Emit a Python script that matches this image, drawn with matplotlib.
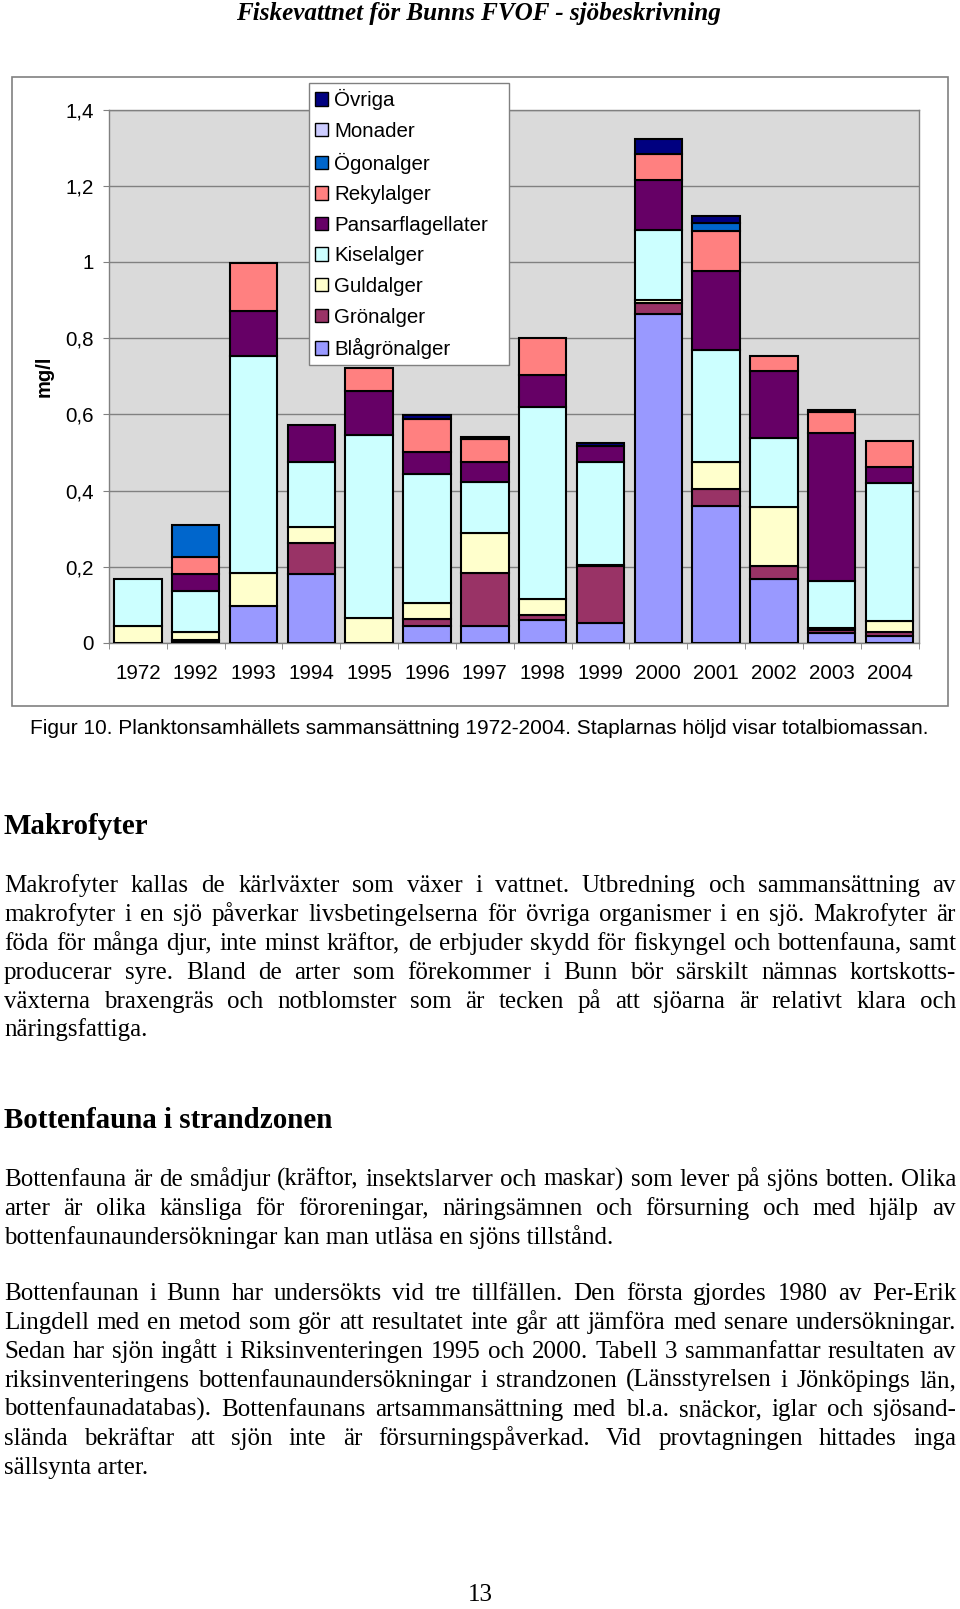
import numpy as np
import matplotlib
matplotlib.use('Agg')
import matplotlib.pyplot as plt
from matplotlib.patches import Patch, Rectangle
from matplotlib.font_manager import FontProperties

# --- chart data (mg/l) ---
years = ['1972', '1992', '1993', '1994', '1995', '1996', '1997',
         '1998', '1999', '2000', '2001', '2002', '2003', '2004']

blagron = [0, 0.005, 0.097, 0.182, 0, 0.044, 0.044, 0.061, 0.053, 0.863, 0.359, 0.168, 0.025, 0.018]
gron    = [0, 0.003, 0, 0.080, 0, 0.020, 0.141, 0.013, 0.148, 0.028, 0.046, 0.033, 0.008, 0.012]
guld    = [0.044, 0.022, 0.088, 0.042, 0.066, 0.041, 0.104, 0.042, 0.003, 0.009, 0.070, 0.156, 0.006, 0.029]
kisel   = [0.125, 0.106, 0.567, 0.171, 0.481, 0.339, 0.133, 0.504, 0.271, 0.185, 0.293, 0.182, 0.124, 0.361]
pansar  = [0, 0.044, 0.120, 0.098, 0.115, 0.058, 0.053, 0.083, 0.042, 0.131, 0.208, 0.175, 0.387, 0.042]
rekyl   = [0, 0.046, 0.126, 0, 0.059, 0.087, 0.060, 0.097, 0, 0.068, 0.106, 0.040, 0.057, 0.068]
ogon    = [0, 0.084, 0, 0, 0, 0, 0, 0, 0, 0, 0.019, 0, 0, 0]
monader = [0] * 14
ovriga  = [0, 0, 0, 0, 0, 0.009, 0.006, 0, 0.007, 0.039, 0.020, 0, 0.004, 0]

series = [('Blågrönalger', blagron, '#9999FF'),
          ('Grönalger', gron, '#993366'),
          ('Guldalger', guld, '#FFFFCC'),
          ('Kiselalger', kisel, '#CCFFFF'),
          ('Pansarflagellater', pansar, '#660066'),
          ('Rekylalger', rekyl, '#FF8080'),
          ('Ögonalger', ogon, '#0066CC'),
          ('Monader', monader, '#CCCCFF'),
          ('Övriga', ovriga, '#000080')]

header = 'Fiskevattnet för Bunns FVOF - sjöbeskrivning'
caption = 'Figur 10. Planktonsamhällets sammansättning 1972-2004. Staplarnas höljd visar totalbiomassan.'
head1 = 'Makrofyter'
para1 = ['Makrofyter kallas de kärlväxter som växer i vattnet. Utbredning och sammansättning av',
         'makrofyter i en sjö påverkar livsbetingelserna för övriga organismer i en sjö. Makrofyter är',
         'föda för många djur, inte minst kräftor, de erbjuder skydd för fiskyngel och bottenfauna, samt',
         'producerar syre. Bland de arter som förekommer i Bunn bör särskilt nämnas kortskotts-',
         'växterna braxengräs och notblomster som är tecken på att sjöarna är relativt klara och',
         'näringsfattiga.']
head2 = 'Bottenfauna i strandzonen'
para2 = ['Bottenfauna är de smådjur (kräftor, insektslarver och maskar) som lever på sjöns botten. Olika',
         'arter är olika känsliga för föroreningar, näringsämnen och försurning och med hjälp av',
         'bottenfaunaundersökningar kan man utläsa en sjöns tillstånd.']
para3 = ['Bottenfaunan i Bunn har undersökts vid tre tillfällen. Den första gjordes 1980 av Per-Erik',
         'Lingdell med en metod som gör att resultatet inte går att jämföra med senare undersökningar.',
         'Sedan har sjön ingått i Riksinventeringen 1995 och 2000. Tabell 3 sammanfattar resultaten av',
         'riksinventeringens bottenfaunaundersökningar i strandzonen (Länsstyrelsen i Jönköpings län,',
         'bottenfaunadatabas). Bottenfaunans artsammansättning med bl.a. snäckor, iglar och sjösand-',
         'slända bekräftar att sjön inte är försurningspåverkad. Vid provtagningen hittades inga',
         'sällsynta arter.']

plt.rcParams['font.family'] = ['Liberation Sans', 'DejaVu Sans']
serif = ['Liberation Serif', 'DejaVu Serif']

W, H = 960, 1609
fig = plt.figure(figsize=(W / 100, H / 100), dpi=100)
r = fig.canvas.get_renderer()


def fx(x):
    return x / W


def fy(y):
    return 1 - y / H


def width_of(s, **kw):
    t = fig.text(0, 0, s, **kw)
    w = t.get_window_extent(r).width
    t.remove()
    return w


def fit(s, target, **kw):
    return 10 * target / width_of(s, fontsize=10, **kw)


# chart frame
fig.add_artist(Rectangle((fx(12), fy(706)), (948 - 12) / W, (706 - 76.5) / H,
                         transform=fig.transFigure, fill=False,
                         edgecolor='#808080', lw=1.2))

ax = fig.add_axes([fx(109), fy(643), (918.5 - 109) / W, (643 - 109.5) / H])
ax.set_facecolor('#dadada')

x = np.arange(len(years))
bottom = np.zeros(len(years))
for name, vals, color in series:
    v = np.array(vals, dtype=float)
    m = v > 0
    ax.bar(x[m], v[m], 0.82, bottom=bottom[m], color=color,
           edgecolor='black', linewidth=1.5, zorder=3)
    bottom += v

ax.set_xlim(-0.5, len(years) - 0.5)
ax.set_ylim(0, 1.4)
yt = np.round(np.arange(0, 1.41, 0.2), 1)
ax.set_yticks(yt, [f'{v:g}'.replace('.', ',') for v in yt])
ax.set_xticks(x, years)
ax.set_xticks(np.arange(-0.5, len(years), 1), minor=True)
ax.tick_params(axis='x', which='major', length=0, pad=15, labelsize=14.8)
ax.tick_params(axis='x', which='minor', length=4.3, color='#808080')
ax.tick_params(axis='y', length=4.3, color='#808080', pad=6.5, labelsize=14.8)
ax.yaxis.grid(True, color='#808080', lw=1)
ax.set_axisbelow(True)
for s in ax.spines.values():
    s.set_color('#808080')
    s.set_linewidth(1)

fig.text(fx(44), fy(376), 'mg/l', rotation=90, fontweight='bold',
         fontsize=14.5, ha='center', va='center')

handles = [Patch(facecolor=c, edgecolor='black', lw=1, label=n)
           for n, v, c in series[::-1]]
leg = fig.legend(handles=handles, loc='upper left',
                 bbox_to_anchor=(fx(309), fy(363), 200 / W, 280 / H),
                 bbox_transform=fig.transFigure, mode='expand',
                 borderaxespad=0, fontsize=14.8, frameon=True, fancybox=False,
                 edgecolor='#808080', framealpha=1, borderpad=0.3,
                 handlelength=0.63, handleheight=0.63, handletextpad=0.3,
                 labelspacing=0.565)
leg.get_frame().set_linewidth(1)

# page text
fig.text(fx(478), fy(13.5), header, ha='center', va='center', family=serif,
         fontweight='bold', fontstyle='italic',
         fontsize=fit(header, 485, family=serif, fontweight='bold', fontstyle='italic'))

fig.text(fx(29.5), fy(728), caption, ha='left', va='center',
         fontsize=fit(caption, 900))

LEFT, RIGHT = 4, 956
hsize = fit(head2, 331, family=serif, fontweight='bold')
bsize = fit(para2[-1], 612, family=serif)
_, lp_h, lp_d = r.get_text_width_height_descent(
    'lp', FontProperties(family=serif, size=bsize), ismath=False)
base_off = lp_h / 2 - lp_d   # line centre -> baseline, in pixels


def justified(lines, y0, step):
    for i, line in enumerate(lines):
        y = fy(round(y0 + i * step + base_off))
        if i == len(lines) - 1:
            fig.text(fx(LEFT), y, line, fontsize=bsize, family=serif, va='baseline')
            continue
        words = line.split()
        widths = [width_of(w, fontsize=bsize, family=serif) for w in words]
        gap = (RIGHT - LEFT - sum(widths)) / (len(words) - 1)
        xpos = LEFT
        for w, ww in zip(words, widths):
            fig.text(fx(xpos), y, w, fontsize=bsize, family=serif, va='baseline')
            xpos += ww + gap


fig.text(fx(LEFT), fy(827), head1, fontsize=hsize, family=serif,
         fontweight='bold', va='center')
justified(para1, 886, 28.9)
fig.text(fx(LEFT), fy(1121), head2, fontsize=hsize, family=serif,
         fontweight='bold', va='center')
justified(para2, 1180, 28.9)
justified(para3, 1294, 29.05)

fig.text(fx(480), fy(1595), '13', fontsize=bsize, family=serif,
         ha='center', va='center')

fig.savefig('out.png', dpi=100)
